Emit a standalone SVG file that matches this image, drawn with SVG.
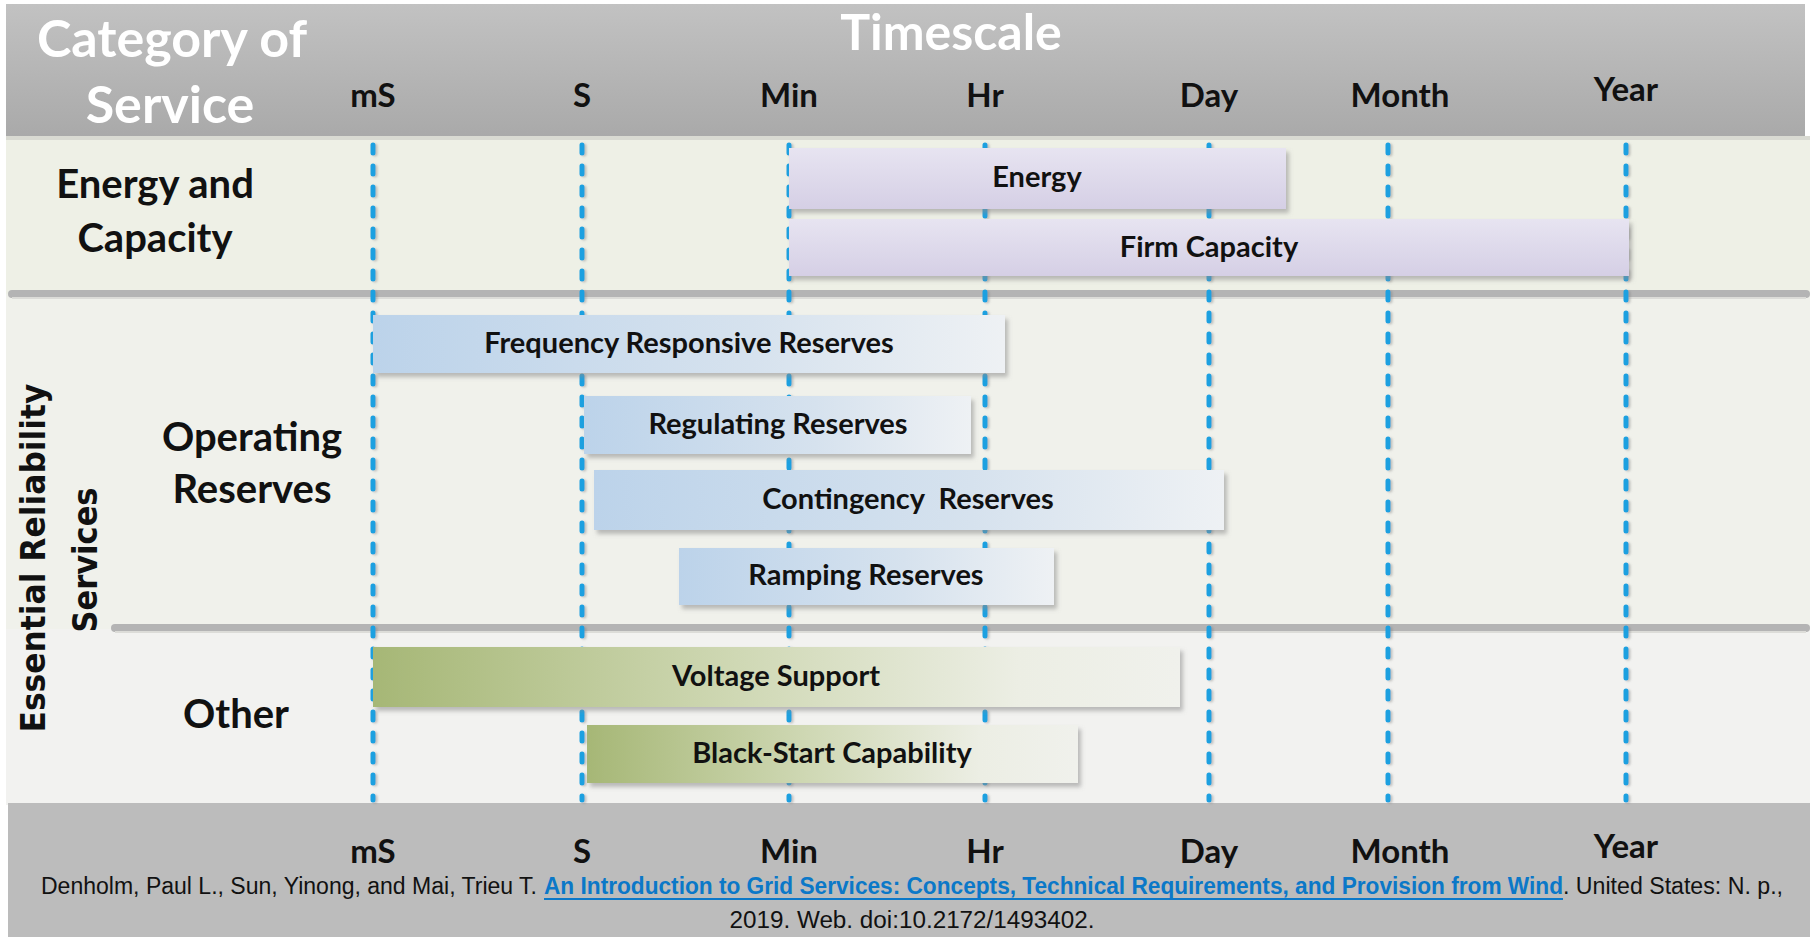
<svg xmlns="http://www.w3.org/2000/svg" width="1817" height="937" viewBox="0 0 1817 937">
<style>
.bar-t{font-family:Lato,"Liberation Sans",sans-serif;font-weight:700;fill:#111;font-size:29px;text-anchor:middle;}
.tick{font-family:Lato,"Liberation Sans",sans-serif;font-weight:700;fill:#111;font-size:33px;text-anchor:middle;}
.hdr{font-family:Lato,"Liberation Sans",sans-serif;font-weight:700;fill:#fff;font-size:52px;text-anchor:middle;}
.cat{font-family:Lato,"Liberation Sans",sans-serif;font-weight:700;fill:#111;font-size:40px;text-anchor:middle;}
.ers{font-family:"DejaVu Sans",sans-serif;font-weight:700;fill:#111;font-size:34px;text-anchor:middle;}
.cite{font-family:"Liberation Sans",sans-serif;fill:#111;font-size:23px;}
.link{font-family:"Liberation Sans",sans-serif;font-weight:700;fill:#0b78c8;font-size:23px;}
.dash{stroke:#1aa0e0;stroke-width:5;stroke-dasharray:8 13;stroke-linecap:round;fill:none;}
.sep{stroke:#b4b4b4;stroke-width:8;stroke-linecap:round;}
</style>
<defs>
<linearGradient id="gHdr" x1="0" y1="0" x2="0" y2="1"><stop offset="0" stop-color="#c2c2c2"/><stop offset="1" stop-color="#a9a9a9"/></linearGradient>
<linearGradient id="gPur" x1="0" y1="0" x2="0" y2="1"><stop offset="0" stop-color="#e7e4f1"/><stop offset="1" stop-color="#d5cfe5"/></linearGradient>
<linearGradient id="gBlu" x1="0" y1="0" x2="1" y2="0"><stop offset="0" stop-color="#bcd3ea"/><stop offset="0.6" stop-color="#d6e2ee"/><stop offset="1" stop-color="#eef1f4"/></linearGradient>
<linearGradient id="gGrn" x1="0" y1="0" x2="1" y2="0"><stop offset="0" stop-color="#a6b776"/><stop offset="0.45" stop-color="#cfd8b4"/><stop offset="0.8" stop-color="#eceee4"/><stop offset="1" stop-color="#f0f1ec"/></linearGradient>
<filter id="shadow" x="-5%" y="-20%" width="115%" height="150%"><feDropShadow dx="3" dy="4" stdDeviation="2" flood-color="#8a8a8a" flood-opacity="0.55"/></filter>
<filter id="dshadow" x="-100%" y="-5%" width="300%" height="110%"><feDropShadow dx="2" dy="1" stdDeviation="1" flood-color="#777" flood-opacity="0.4"/></filter>
</defs>

<rect width="1817" height="937" fill="#ffffff"/>

<!-- panels -->
<g id="panels">
<rect x="6" y="138" width="1804" height="156" fill="#eef0e6"/>
<rect x="6" y="294" width="1804" height="335" fill="#f0f1eb"/>
<rect x="6" y="629" width="1804" height="176" fill="#f2f2f0"/>
</g>

<!-- header -->
<g id="header">
<rect x="6" y="4" width="1799" height="134" fill="url(#gHdr)"/>
<rect x="6" y="136" width="1804" height="4" fill="#d9dad2"/>
<text class="hdr" x="172" y="57">Category of</text>
<text class="hdr" x="170" y="123">Service</text>
<text class="hdr" x="951" y="50" style="font-size:50px">Timescale</text>
<text class="tick" x="373" y="107">mS</text>
<text class="tick" x="582" y="107">S</text>
<text class="tick" x="789" y="107">Min</text>
<text class="tick" x="985" y="107">Hr</text>
<text class="tick" x="1209" y="107">Day</text>
<text class="tick" x="1400" y="107">Month</text>
<text class="tick" x="1626" y="101">Year</text>
</g>

<!-- footer band -->
<g id="footer">
<rect x="8" y="803" width="1802" height="134" fill="#bcbcbc"/>
<text class="tick" x="373" y="863">mS</text>
<text class="tick" x="582" y="863">S</text>
<text class="tick" x="789" y="863">Min</text>
<text class="tick" x="985" y="863">Hr</text>
<text class="tick" x="1209" y="863">Day</text>
<text class="tick" x="1400" y="863">Month</text>
<text class="tick" x="1626" y="858">Year</text>
<text class="cite" x="41" y="894" textLength="496" lengthAdjust="spacingAndGlyphs">Denholm, Paul L., Sun, Yinong, and Mai, Trieu T.</text>
<text class="link" x="544" y="894" textLength="1019" lengthAdjust="spacingAndGlyphs">An Introduction to Grid Services: Concepts, Technical Requirements, and Provision from Wind</text>
<line x1="544" y1="899" x2="1563" y2="899" stroke="#0b78c8" stroke-width="2"/>
<text class="cite" x="1563" y="894" textLength="220" lengthAdjust="spacingAndGlyphs">. United States: N. p.,</text>
<text class="cite" x="912" y="928" text-anchor="middle" textLength="365" lengthAdjust="spacingAndGlyphs">2019. Web. doi:10.2172/1493402.</text>
</g>

<!-- separators -->
<g id="separators">
<line class="sep" x1="12" y1="294" x2="1806" y2="294"/>
<line x1="12" y1="298" x2="1806" y2="298" stroke="#dcdcd8" stroke-width="2"/>
<line class="sep" x1="115" y1="628" x2="1806" y2="628"/>
<line x1="115" y1="632" x2="1806" y2="632" stroke="#dcdcd8" stroke-width="2"/>
</g>

<!-- category labels -->
<g id="cat-energy">
<text class="cat" x="155" y="198">Energy and</text>
<text class="cat" x="155" y="252">Capacity</text>
</g>
<g id="cat-operating">
<text class="cat" x="252" y="451">Operating</text>
<text class="cat" x="252" y="503">Reserves</text>
</g>
<g id="cat-other">
<text class="cat" x="236" y="728">Other</text>
</g>
<g id="cat-ers">
<text class="ers" transform="translate(45,558) rotate(-90)" textLength="349" lengthAdjust="spacingAndGlyphs">Essential Reliability</text>
<text class="ers" transform="translate(97,560) rotate(-90)" textLength="145" lengthAdjust="spacingAndGlyphs">Services</text>
</g>

<!-- timescale dashed lines -->
<g id="connectors" filter="url(#dshadow)">
<line class="dash" x1="373" y1="145" x2="373" y2="800"/>
<line class="dash" x1="582" y1="145" x2="582" y2="800"/>
<line class="dash" x1="789" y1="145" x2="789" y2="800"/>
<line class="dash" x1="985" y1="145" x2="985" y2="800"/>
<line class="dash" x1="1209" y1="145" x2="1209" y2="800"/>
<line class="dash" x1="1388" y1="145" x2="1388" y2="800"/>
<line class="dash" x1="1626" y1="145" x2="1626" y2="800"/>
</g>

<!-- bars -->
<g id="bar-energy">
<rect x="789" y="148" width="497" height="61" fill="url(#gPur)" filter="url(#shadow)"/>
<text class="bar-t" x="1037" y="187">Energy</text>
</g>
<g id="bar-firm">
<rect x="789" y="219" width="840" height="57" fill="url(#gPur)" filter="url(#shadow)"/>
<text class="bar-t" x="1209" y="257">Firm Capacity</text>
</g>
<g id="bar-freq">
<rect x="373" y="315" width="632" height="58" fill="url(#gBlu)" filter="url(#shadow)"/>
<text class="bar-t" x="689" y="353">Frequency Responsive Reserves</text>
</g>
<g id="bar-reg">
<rect x="584" y="396" width="387" height="58" fill="url(#gBlu)" filter="url(#shadow)"/>
<text class="bar-t" x="778" y="434">Regulating Reserves</text>
</g>
<g id="bar-cont">
<rect x="594" y="470" width="630" height="60" fill="url(#gBlu)" filter="url(#shadow)"/>
<text class="bar-t" x="908" y="509" xml:space="preserve">Contingency  Reserves</text>
</g>
<g id="bar-ramp">
<rect x="679" y="548" width="375" height="57" fill="url(#gBlu)" filter="url(#shadow)"/>
<text class="bar-t" x="866" y="585">Ramping Reserves</text>
</g>
<g id="bar-volt">
<rect x="373" y="647" width="807" height="60" fill="url(#gGrn)" filter="url(#shadow)"/>
<text class="bar-t" x="776" y="686">Voltage Support</text>
</g>
<g id="bar-black">
<rect x="587" y="725" width="491" height="58" fill="url(#gGrn)" filter="url(#shadow)"/>
<text class="bar-t" x="832" y="763">Black-Start Capability</text>
</g>
</svg>
